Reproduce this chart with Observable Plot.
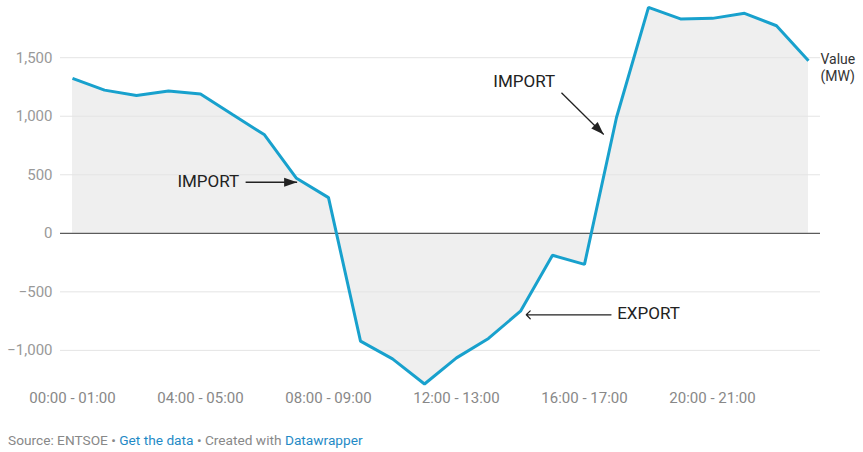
<!DOCTYPE html>
<html><head><meta charset="utf-8">
<script src="https://cdn.jsdelivr.net/npm/d3@7"></script>
<script src="https://cdn.jsdelivr.net/npm/@observablehq/plot@0.6"></script>
<style>
body{margin:0;background:#fff;font-family:Roboto,sans-serif;}
#chart svg{display:block;}
#footer{padding:22px 0 0 8px;font-size:13.7px;line-height:15px;color:#888;font-family:Roboto,sans-serif;}
#footer a{color:#1f8ac6;text-decoration:none;}
</style></head><body>
<div id="chart"></div>
<div id="footer">Source: ENTSOE • <a>Get the data</a> • Created with <a>Datawrapper</a></div>
<script>
const hours = ["00:00 - 01:00","01:00 - 02:00","02:00 - 03:00","03:00 - 04:00","04:00 - 05:00","05:00 - 06:00",
  "06:00 - 07:00","07:00 - 08:00","08:00 - 09:00","09:00 - 10:00","10:00 - 11:00","11:00 - 12:00",
  "12:00 - 13:00","13:00 - 14:00","14:00 - 15:00","15:00 - 16:00","16:00 - 17:00","17:00 - 18:00",
  "18:00 - 19:00","19:00 - 20:00","20:00 - 21:00","21:00 - 22:00","22:00 - 23:00","23:00 - 24:00"];
const values = [1323, 1223, 1177, 1215, 1189, 1014, 841, 470, 305, -921, -1073, -1287,
  -1064, -898, -665, -188, -265, 989, 1930, 1831, 1836, 1879, 1773, 1474];
const yTicks = [-1000, -500, 0, 500, 1000, 1500];
const xTickHours = [0, 4, 8, 12, 16, 20];
// annotation labels and arrows in data units (hour index, MW)
const labelsEnd = [
  {text: "IMPORT", x: 5.21, y: 442}
];
const labelsStart = [
  {text: "IMPORT", x: 13.15, y: 1299},
  {text: "EXPORT", x: 17.02, y: -688}
];
const filledArrows = [
  {x1: 5.41, y1: 436, x2: 7.02, y2: 436, angle: 90},
  {x1: 15.28, y1: 1200, x2: 16.60, y2: 844, angle: 135}
];
const openArrows = [
  {x1: 16.83, y1: -696, x2: 14.18, y2: -696}
];

const data = values.map((v, i) => ({i, v}));
const arrowHead = {draw(ctx) { ctx.moveTo(0, 0); ctx.lineTo(-4.5, 13); ctx.lineTo(4.5, 13); ctx.closePath(); }};

const chart = Plot.plot({
  width: 863,
  height: 411,
  marginTop: 1,
  marginBottom: 26,
  marginLeft: 72,
  marginRight: 55,
  style: {fontFamily: "Roboto, sans-serif", background: "#fff", overflow: "visible"},
  x: {type: "linear", domain: [0, 23]},
  y: {domain: [-1300, 1980]},
  marks: [
    Plot.areaY(data, {x: "i", y: "v", fill: "#efefef"}),
    Plot.ruleY(yTicks.filter(d => d !== 0), {stroke: "#e4e4e4", strokeWidth: 1, insetLeft: -12, insetRight: -12}),
    Plot.ruleY([0], {stroke: "#333", strokeWidth: 1, insetLeft: -12, insetRight: -12}),
    Plot.lineY(data, {x: "i", y: "v", stroke: "#18a1cd", strokeWidth: 3, strokeLinejoin: "miter", strokeLinecap: "butt"}),
    Plot.axisY(yTicks, {tickSize: 0, tickPadding: 20, tickFormat: d3.format(","), fontSize: 15, fill: "#999", anchor: "left"}),
    Plot.axisX(xTickHours, {tickSize: 0, tickPadding: 7, tickFormat: i => hours[i], fontSize: 15, fill: "#888", anchor: "bottom"}),
    Plot.text([data[data.length - 1]], {x: "i", y: "v", text: () => "Value\n(MW)", textAnchor: "start", lineAnchor: "middle", dx: 12, dy: 6, fontSize: 14, fill: "#333", lineHeight: 1.25}),
    Plot.text(labelsEnd, {x: "x", y: "y", text: "text", textAnchor: "end", fontSize: 17, fill: "#222"}),
    Plot.text(labelsStart, {x: "x", y: "y", text: "text", textAnchor: "start", fontSize: 17, fill: "#222"}),
    Plot.link(filledArrows, {x1: "x1", y1: "y1", x2: "x2", y2: "y2", stroke: "#222", strokeWidth: 1.3}),
    Plot.dot(filledArrows, {x: "x2", y: "y2", symbol: arrowHead, rotate: "angle", fill: "#222", stroke: "none"}),
    Plot.arrow(openArrows, {x1: "x1", y1: "y1", x2: "x2", y2: "y2", stroke: "#222", strokeWidth: 1.2, headLength: 7, headAngle: 90})
  ]
});
document.getElementById("chart").appendChild(chart);
</script>
</body></html>
